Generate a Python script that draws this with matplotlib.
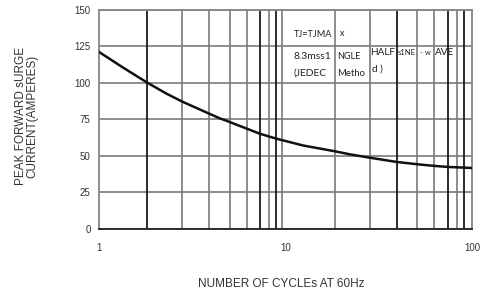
import matplotlib
matplotlib.use("Agg")
import matplotlib.pyplot as plt

# curva de corriente de surge vs numero de ciclos
cycles = [1, 1.35, 1.815, 2.3, 2.8, 3.87, 4.45, 4.86, 7.29, 8.95, 12.4, 18.4, 22.2, 28.4, 39.5, 51.3, 63, 74.6, 100]
current = [121, 110.2, 100, 92.5, 87, 79, 75.6, 73.8, 65.1, 61.7, 57.1, 53.1, 51, 48.7, 45.8, 44.2, 43.1, 42.4, 41.7]

y_ticks = [0, 25, 50, 75, 100, 125, 150]
x_ticks = [1, 10, 100]
x_tick_labels = ["1", "10", "100"]

# lineas verticales de la grilla (como en el original, no exactamente log)
grid_x = [1.815, 2.80, 3.87, 5.04, 6.19, 7.27, 8.16, 8.89, 9.61,
          18.5, 28.3, 39.4, 51.0, 62.8, 74.6, 82.8, 90.3]
grid_dark = [1.815, 7.27, 8.89, 39.4, 74.6, 90.3]

notes = [
    ("TJ=TJMA", 11.1, 132.6, 6.6),
    ("x", 19.6, 133.5, 6.5),
    ("8.3mss1", 11.1, 118.2, 7.4),
    ("NGLE", 18.8, 118.2, 6.5),
    ("HALF", 28.6, 120.8, 7.2),
    ("s1NE", 39.8, 120.6, 5.5),
    ("- w", 52.6, 120.3, 5.5),
    ("AVE", 63.3, 120.8, 7.2),
    ("d )", 29.0, 109.4, 7.2),
    ("(JEDEC", 11.1, 106.3, 7.4),
    ("Metho", 18.8, 106.5, 6.8),
]

plt.rcParams['font.family'] = ['Liberation Sans', 'DejaVu Sans']

fig = plt.figure(figsize=(4.84, 2.95), dpi=100)
ax = fig.add_axes([99 / 484, 1 - 229 / 295, 373 / 484, 219.5 / 295])

ax.set_xscale("log")
ax.set_xlim(1, 100)
ax.set_ylim(0, 150)

for y in y_ticks:
    ax.axhline(y, color="#858585", lw=1.3, zorder=1)
for gx in grid_x:
    if gx in grid_dark:
        ax.axvline(gx, color="#1a1a1a", lw=1.3, zorder=1)
    else:
        ax.axvline(gx, color="#7a7a7a", lw=1.2, zorder=1)

ax.plot(cycles, current, color="#111111", lw=1.8, zorder=3)

for txt, x, y, fs in notes:
    ax.text(x, y, txt, fontsize=fs, ha="left", va="center", color="#222222",
            family=["Lato", "DejaVu Sans"], zorder=4)

ax.set_yticks(y_ticks)
ax.set_yticklabels([str(v) for v in y_ticks])
ax.set_xticks(x_ticks)
ax.set_xticklabels(x_tick_labels)
ax.minorticks_off()
ax.tick_params(axis="both", length=0, labelsize=7, labelcolor="#333333")
ax.tick_params(axis="y", pad=6)
ax.tick_params(axis="x", pad=10)

for s in ["top", "right", "left"]:
    ax.spines[s].set_color("#858585")
    ax.spines[s].set_linewidth(1.3)
ax.spines["bottom"].set_color("#222222")
ax.spines["bottom"].set_linewidth(1.3)

fig.text(27 / 484, 1 - 116 / 295, "PEAK FORWARD sURGE\nCURRENT(AMPERES)",
         rotation=90, ha="center", va="center", fontsize=8.5, color="#333333",
         linespacing=0.95)
fig.text(281 / 484, 1 - 284 / 295, "NUMBER OF CYCLEs AT 60Hz",
         ha="center", va="center", fontsize=8.5, color="#333333")

fig.savefig("out.png", dpi=100)
